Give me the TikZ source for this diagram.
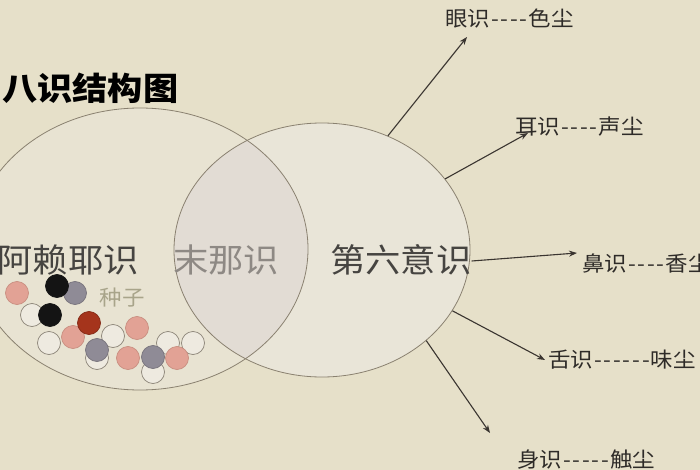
\documentclass[tikz,border=0pt]{standalone}
\usepackage{fontspec}
\setmainfont{Noto Sans CJK SC}
\usetikzlibrary{arrows.meta,shapes.geometric}
\definecolor{bg}{HTML}{E6E0C9}
\definecolor{leftfill}{HTML}{E8E3D2}
\definecolor{rightfill}{HTML}{E9E5D8}
\definecolor{midfill}{HTML}{E2DCD4}
\definecolor{outline}{HTML}{8A8170}
\definecolor{arrowc}{HTML}{3A3530}
\definecolor{darktext}{HTML}{464441}
\definecolor{lighttext}{HTML}{8E8984}
\definecolor{seedtext}{HTML}{A8A48A}
\definecolor{labeltext}{HTML}{2E2B28}
\definecolor{pinkc}{HTML}{E2A295}
\definecolor{pinkd}{HTML}{C98E80}
\definecolor{whitec}{HTML}{EEEAE0}
\definecolor{whited}{HTML}{8C8478}
\definecolor{greyc}{HTML}{8F8B96}
\definecolor{greyd}{HTML}{77737C}
\definecolor{blackc}{HTML}{141414}
\definecolor{redc}{HTML}{A5341C}
\newcommand\mydash{\makebox[9pt]{-}}
\begin{document}
\begin{tikzpicture}[x=1pt,y=-1pt,
  ring/.style={ellipse, draw=outline, line width=0.8pt, inner sep=0pt},
  big/.style={inner sep=0pt, font=\fontsize{33}{33}\selectfont},
  small/.style={inner sep=0pt, text=labeltext, font=\fontsize{21}{21}\selectfont, anchor=west},
  seed/.style={circle, minimum size=23pt, inner sep=0pt, line width=0.7pt},
  wseed/.style={seed, fill=whitec, draw=whited},
  pseed/.style={seed, fill=pinkc, draw=pinkd},
  gseed/.style={seed, fill=greyc, draw=greyd},
  kseed/.style={seed, fill=blackc, draw=blackc},
  rseed/.style={seed, fill=redc, draw=redc!80!black},
  arr/.style={draw=arrowc, line width=1.1pt, -{Stealth[length=8pt,width=6pt]}}]
\useasboundingbox (0,0) rectangle (700,470);
\clip (0,0) rectangle (700,470);
\fill[bg] (0,0) rectangle (700,470);
\fill[leftfill] (140,249) ellipse [x radius=168, y radius=141];
\fill[rightfill] (322,250) ellipse [x radius=148, y radius=127];
\begin{scope}
  \clip (140,249) ellipse [x radius=168, y radius=141];
  \fill[midfill] (322,250) ellipse [x radius=148, y radius=127];
\end{scope}
\node[ring, minimum width=336pt, minimum height=282pt] (alaya) at (140,249) {};
\node[ring, minimum width=296pt, minimum height=254pt] (mind) at (322,250) {};
% title
\node[inner sep=0pt, anchor=west, text=black, font=\fontsize{32}{32}\selectfont\bfseries] (title) at (2,88) {\scalebox{1.1}[1]{八识结构图}};
% main labels
\node[big, text=darktext, anchor=east] (alayaT) at (139,260) {\scalebox{1.07}[1]{阿赖耶识}};
\node[big, text=lighttext, anchor=west] (manasT) at (173,260) {\scalebox{1.07}[1]{末那识}};
\node[big, text=darktext, anchor=west] (sixT) at (330,260) {\scalebox{1.07}[1]{第六意识}};
\node[inner sep=0pt, text=seedtext, font=\fontsize{21}{21}\selectfont] (seedT) at (122,298) {\scalebox{1.07}[1]{种子}};
% sense labels
\node[small] (eye) at (445,18) {\scalebox{1.07}[1]{眼识\mydash\mydash\mydash\mydash 色尘}};
\node[small] (ear) at (515,127) {\scalebox{1.07}[1]{耳识\mydash\mydash\mydash\mydash 声尘}};
\node[small] (nose) at (582,263) {\scalebox{1.07}[1]{鼻识\mydash\mydash\mydash\mydash 香尘}};
\node[small] (tongue) at (548,360) {\scalebox{1.07}[1]{舌识\mydash\mydash\mydash\mydash\mydash\mydash 味尘}};
\node[small] (body) at (517,460) {\scalebox{1.07}[1]{身识\mydash\mydash\mydash\mydash\mydash 触尘}};
% arrow end points
\coordinate (e1) at (467,37);
\coordinate (e2) at (528,133);
\coordinate (e3) at (577,253);
\coordinate (e4) at (545,360);
\coordinate (e5) at (490,433);
\draw[arr] (mind.60) -- (e1);
\draw[arr] (mind.30) -- (e2);
\draw[arr] ([yshift=-1pt]sixT.east) -- (e3);
\draw[arr] (mind.-25.5) -- (e4);
\draw[arr] (mind.-41) -- (e5);
% seeds
\node[wseed] (s1) at (32,315) {};
\node[wseed] (s2) at (113,336) {};
\node[wseed] (s3) at (49,343) {};
\node[wseed] (s4) at (97,358) {};
\node[wseed] (s5) at (153,372) {};
\node[wseed] (s6) at (168,343) {};
\node[wseed] (s7) at (193,343) {};
\node[pseed] (s8) at (17,293) {};
\node[gseed] (s9) at (75,293) {};
\node[kseed] (s10) at (57,286) {};
\node[kseed] (s11) at (50,315) {};
\node[pseed] (s12) at (137,328) {};
\node[pseed] (s13) at (73,337) {};
\node[rseed] (s14) at (89,323) {};
\node[gseed] (s15) at (97,350) {};
\node[pseed] (s16) at (128,358) {};
\node[gseed] (s17) at (153,357) {};
\node[pseed] (s18) at (177,358) {};
\end{tikzpicture}
\end{document}
